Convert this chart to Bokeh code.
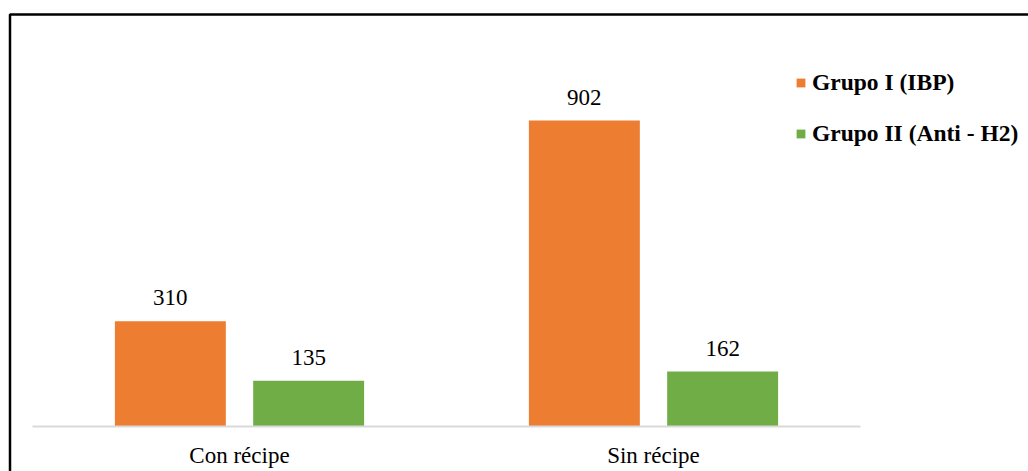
import numpy as np
from bokeh.plotting import figure
from bokeh.models import (ColumnDataSource, Range1d, LabelSet, FixedTicker,
                          Legend, LegendItem, BoxAnnotation)
from bokeh.transform import dodge
from bokeh.embed import file_html
from bokeh.resources import INLINE

# Prescription status and counts per group
categories = ["Con récipe", "Sin récipe"]
grupo_ibp = [310, 902]
grupo_anti_h2 = [135, 162]
series_names = ["Grupo I (IBP)", "Grupo II (Anti - H2)"]

ORANGE = "#ED7D31"
GREEN = "#70AD47"
SERIF = "Liberation Serif"

W, H = 1028, 471
# plot-area geometry (pixels): category band and baseline
AREA_LEFT, AREA_RIGHT, BASELINE = 32, 860, 426
PX_PER_CAT = (AREA_RIGHT - AREA_LEFT) / len(categories)
PX_PER_UNIT = 0.3392

centers = np.arange(len(categories)) + 0.5
source = ColumnDataSource(data=dict(
    x=centers,
    ibp=grupo_ibp,
    h2=grupo_anti_h2,
    ibp_txt=[str(v) for v in grupo_ibp],
    h2_txt=[str(v) for v in grupo_anti_h2],
))

x_range = Range1d(-AREA_LEFT / PX_PER_CAT, (W - AREA_LEFT) / PX_PER_CAT)
y_range = Range1d(-(H - BASELINE) / PX_PER_UNIT, BASELINE / PX_PER_UNIT)

p = figure(
    width=W, height=H, x_range=x_range, y_range=y_range,
    output_backend="svg", toolbar_location=None,
    min_border_left=0, min_border_right=0,
    min_border_top=0, min_border_bottom=0,
)
p.outline_line_color = None
p.background_fill_color = "white"
p.border_fill_color = "white"
p.xgrid.visible = False
p.ygrid.visible = False
p.yaxis.visible = False

xa = p.xaxis[0]
xa.fixed_location = 0
xa.bounds = (0, len(categories))
xa.ticker = FixedTicker(ticks=list(centers))
xa.major_label_overrides = {float(c): name for c, name in zip(centers, categories)}
xa.axis_line_color = "#D9D9D9"
xa.axis_line_width = 2
xa.major_tick_line_color = None
xa.minor_tick_line_color = None
xa.major_tick_out = 0
xa.major_tick_in = 0
xa.major_label_standoff = 16
xa.major_label_text_font = SERIF
xa.major_label_text_font_size = "23px"
xa.major_label_text_color = "black"

OFF, BAR_W = 0.167, 0.268
r1 = p.vbar(x=dodge("x", -OFF), top="ibp", bottom=0, width=BAR_W,
            source=source, fill_color=ORANGE, line_color=None)
r2 = p.vbar(x=dodge("x", OFF), top="h2", bottom=0, width=BAR_W,
            source=source, fill_color=GREEN, line_color=None)

for col, txt, off in (("ibp", "ibp_txt", -OFF), ("h2", "h2_txt", OFF)):
    p.add_layout(LabelSet(
        x=dodge("x", off), y=col, text=txt, source=source,
        text_align="center", text_baseline="alphabetic", y_offset=16,
        text_font=SERIF, text_font_size="23px", text_color="black",
    ))

legend = Legend(
    items=[LegendItem(label=series_names[0], renderers=[r1]),
           LegendItem(label=series_names[1], renderers=[r2])],
    location=(795, 324),
    orientation="vertical",
    padding=0, margin=0, spacing=24,
    glyph_width=11, glyph_height=11, label_height=24,
    label_standoff=6,
    label_text_font=SERIF, label_text_font_size="23.5px",
    label_text_font_style="bold", label_text_color="black",
    border_line_color=None, background_fill_alpha=0,
)
p.add_layout(legend)

# Chart-area frame: top and left edges
p.add_layout(BoxAnnotation(
    left=9.5, right=1300, top=14, bottom=900,
    left_units="canvas", right_units="canvas",
    top_units="canvas", bottom_units="canvas",
    fill_alpha=0, line_color="black", line_alpha=1.0, line_width=2.5,
))

open("out.html", "w").write(file_html(p, INLINE))
